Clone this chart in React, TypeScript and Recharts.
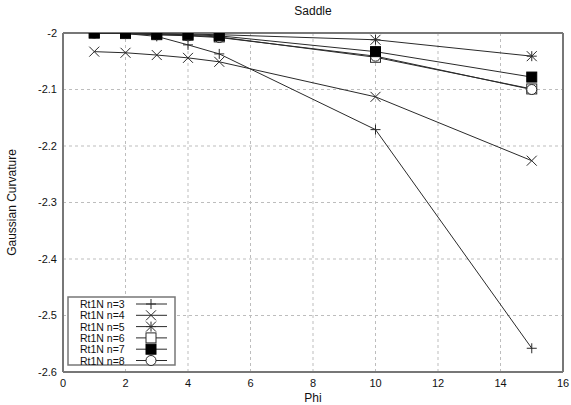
import {
  LineChart,
  Line,
  XAxis,
  YAxis,
  CartesianGrid,
  ReferenceLine,
} from "recharts";

const phi = [1, 2, 3, 4, 5, 10, 15];
const n3 = [-2.0, -2.001, -2.006, -2.021, -2.037, -2.171, -2.558];
const n4 = [-2.033, -2.035, -2.039, -2.044, -2.051, -2.113, -2.226];
const n5 = [-2.0, -2.0, -2.001, -2.002, -2.003, -2.012, -2.041];
const n6 = [-2.0, -2.001, -2.003, -2.004, -2.007, -2.043, -2.099];
const n7 = [-2.0, -2.0, -2.002, -2.003, -2.005, -2.033, -2.078];
const n8 = [-2.0, -2.001, -2.003, -2.005, -2.008, -2.041, -2.1];

const xTicks = [0, 2, 4, 6, 8, 10, 12, 14, 16];
const yTicks = [-2.6, -2.5, -2.4, -2.3, -2.2, -2.1, -2];

const seriesList = [
  { key: "n3", name: "Rt1N n=3", shape: "plus" },
  { key: "n4", name: "Rt1N n=4", shape: "cross" },
  { key: "n5", name: "Rt1N n=5", shape: "star" },
  { key: "n6", name: "Rt1N n=6", shape: "square" },
  { key: "n7", name: "Rt1N n=7", shape: "filled" },
  { key: "n8", name: "Rt1N n=8", shape: "circle" },
];
// filled squares sit on top in the original
const drawOrder = ["n3", "n4", "n5", "n6", "n8", "n7"];

const data = phi.map((p, i) => ({
  phi: p,
  n3: n3[i],
  n4: n4[i],
  n5: n5[i],
  n6: n6[i],
  n7: n7[i],
  n8: n8[i],
}));

const ink = "#2a2a2a";
const font = "'Liberation Sans', Arial, sans-serif";

function Marker({ shape, cx, cy }: { shape: string; cx: number; cy: number }) {
  const s = 5;
  if (shape === "plus") {
    return (
      <g stroke={ink} strokeWidth={1}>
        <line x1={cx - s} y1={cy} x2={cx + s} y2={cy} />
        <line x1={cx} y1={cy - s} x2={cx} y2={cy + s} />
      </g>
    );
  }
  if (shape === "cross") {
    return (
      <g stroke={ink} strokeWidth={1}>
        <line x1={cx - s} y1={cy - s} x2={cx + s} y2={cy + s} />
        <line x1={cx - s} y1={cy + s} x2={cx + s} y2={cy - s} />
      </g>
    );
  }
  if (shape === "star") {
    return (
      <g stroke={ink} strokeWidth={1}>
        <line x1={cx - s} y1={cy} x2={cx + s} y2={cy} />
        <line x1={cx} y1={cy - s} x2={cx} y2={cy + s} />
        <line x1={cx - s} y1={cy - s} x2={cx + s} y2={cy + s} />
        <line x1={cx - s} y1={cy + s} x2={cx + s} y2={cy - s} />
      </g>
    );
  }
  if (shape === "square") {
    return <rect x={cx - s} y={cy - s} width={2 * s} height={2 * s} fill="#fff" stroke={ink} strokeWidth={1} />;
  }
  if (shape === "filled") {
    return <rect x={cx - s} y={cy - s} width={2 * s} height={2 * s} fill="#000" stroke="#000" strokeWidth={1} />;
  }
  return <circle cx={cx} cy={cy} r={s} fill="#fff" stroke={ink} strokeWidth={1} />;
}

function LegendBox() {
  return (
    <svg width={110} height={71} style={{ display: "block" }}>
      <rect x={1} y={1} width={107} height={68} fill="#fff" stroke="#777" strokeWidth={1.5} />
      {seriesList.map((s, i) => {
        const y = 8 + i * 11.3;
        return (
          <g key={s.key}>
            <text x={13} y={y + 4} fontSize={10.5} fontFamily={font} fill="#111">
              {s.name}
            </text>
            <line x1={69} y1={y} x2={100} y2={y} stroke={ink} strokeWidth={1} />
            <Marker shape={s.shape} cx={84} cy={y} />
          </g>
        );
      })}
    </svg>
  );
}

export default function App() {
  return (
    <div style={{ position: "relative", width: 571, height: 405, background: "#fff" }}>
      <style>{`body{margin:0}`}</style>
      <LineChart
        width={571}
        height={405}
        data={data}
        margin={{ top: 33, right: 8, left: 0, bottom: 0 }}
      >
        <CartesianGrid stroke="#bdbdbd" strokeDasharray="3 3" />
        <XAxis
          dataKey="phi"
          type="number"
          domain={[0, 16]}
          ticks={xTicks}
          height={33}
          tickLine={false}
          tickSize={4}
          tickMargin={3}
          axisLine={{ stroke: "#777", strokeWidth: 2 }}
          tick={{ fill: "#111", fontSize: 11, fontFamily: font }}
          label={{ value: "Phi", position: "insideBottom", offset: 3, fill: "#111", fontSize: 12, fontFamily: font }}
        />
        <YAxis
          type="number"
          domain={[-2.6, -2]}
          ticks={yTicks}
          width={63}
          tickLine={false}
          tickSize={4}
          tickMargin={2}
          allowDataOverflow
          axisLine={{ stroke: "#777", strokeWidth: 2 }}
          tick={{ fill: "#111", fontSize: 11, fontFamily: font }}
          tickFormatter={(v: number) => String(Number(v.toFixed(1)))}
          label={{
            value: "Gaussian Curvature",
            angle: -90,
            position: "insideLeft",
            offset: 12,
            style: { textAnchor: "middle" },
            fill: "#111",
            fontSize: 12,
            fontFamily: font,
          }}
        />
        <ReferenceLine y={-2} stroke="#777" strokeWidth={2} />
        <ReferenceLine x={16} stroke="#777" strokeWidth={2} />
        {drawOrder.map((k) => {
          const s = seriesList.find((x) => x.key === k)!;
          return (
            <Line
              key={s.key}
              dataKey={s.key}
              name={s.name}
              type="linear"
              stroke={ink}
              strokeWidth={1}
              isAnimationActive={false}
              dot={(p: any) => <Marker key={`${s.key}-${p.index}`} shape={s.shape} cx={p.cx} cy={p.cy} />}
              activeDot={false}
            />
          );
        })}
        <text x={313} y={15} textAnchor="middle" fontSize={12} fontFamily={font} fill="#111">
          Saddle
        </text>
      </LineChart>
      <div style={{ position: "absolute", left: 67, top: 296 }}>
        <LegendBox />
      </div>
    </div>
  );
}
